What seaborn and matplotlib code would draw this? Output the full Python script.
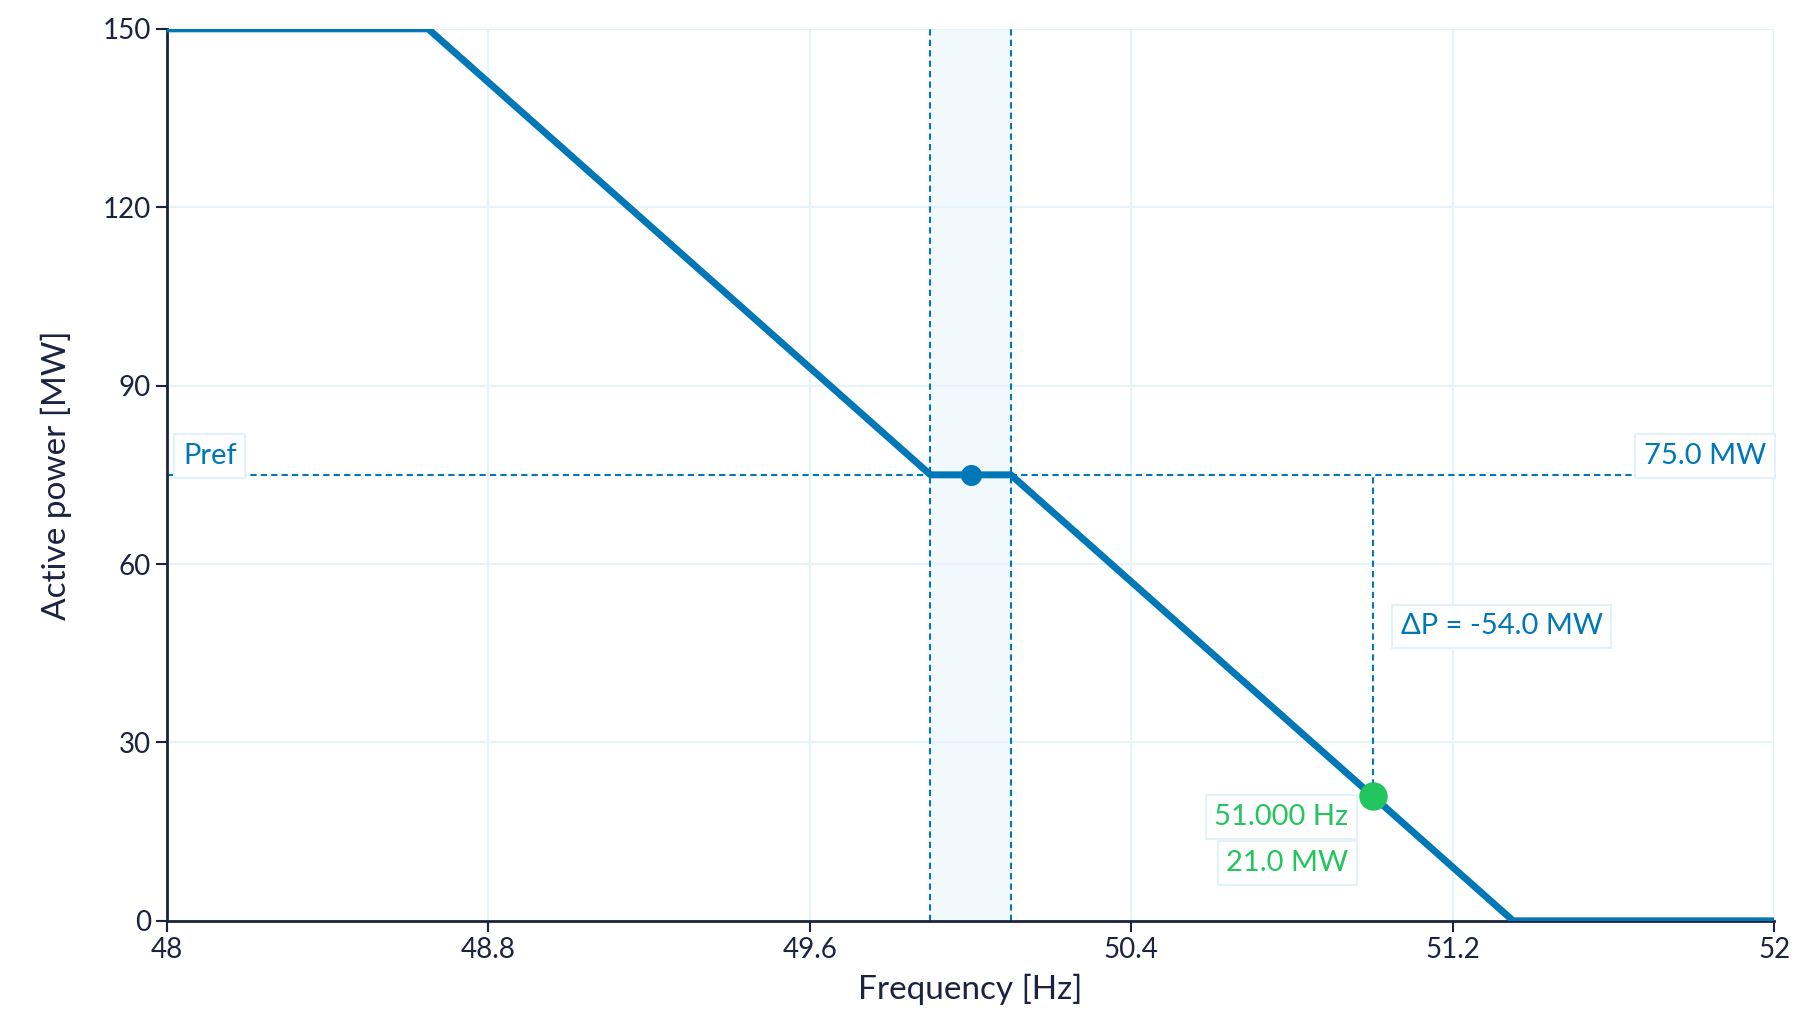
import matplotlib
matplotlib.use("Agg")
import matplotlib.pyplot as plt
import seaborn as sns
import pandas as pd

# Droop curve breakpoints
freq = [48.0, 48.65, 49.9, 50.1, 51.35, 52.0]
power = [150, 150, 75, 75, 0, 0]
deadband = [49.9, 50.1]
p_ref = 75.0
op_freq = 51.0
op_power = 21.0
delta_p = -54.0
x_ticks = [48, 48.8, 49.6, 50.4, 51.2, 52]
y_ticks = [0, 30, 60, 90, 120, 150]

blue = "#0077b6"
green = "#22c55e"
navy = "#1b2340"

sns.set_theme(style="white")
plt.rcParams['font.family'] = ['Lato', 'DejaVu Sans']

fig = plt.figure(figsize=(17.95, 10.3), dpi=100)
ax = fig.add_axes([0.093, 0.106, 0.8955, 0.866])

df = pd.DataFrame({"f": freq, "p": power})
ax.axvspan(deadband[0], deadband[1], color="#e8f5fb", alpha=0.6, zorder=0)
for d in deadband:
    ax.axvline(d, color=blue, ls=(0, (3, 2)), lw=1.5, zorder=1)
ax.axhline(p_ref, color=blue, ls=(0, (3, 2)), lw=1.5, zorder=1)
ax.plot([op_freq, op_freq], [op_power, p_ref], color=blue, ls=(0, (3, 2)), lw=1.5, zorder=1)

sns.lineplot(data=df, x="f", y="p", ax=ax, color=blue, lw=5, zorder=3)
ax.scatter([sum(deadband) / 2], [p_ref], s=200, color=blue, zorder=4)
ax.scatter([op_freq], [op_power], s=380, color=green, zorder=5)

box = dict(boxstyle="square,pad=0.3", fc="white", ec="#e3f1f8", lw=1.5)
ax.text(48.04, p_ref + 3.2, "Pref", color=blue, fontsize=21, ha="left", va="center", bbox=box)
ax.text(51.98, p_ref + 3.2, f"{p_ref:.1f} MW", color=blue, fontsize=21, ha="right", va="center", bbox=box)
ax.text(op_freq + 0.07, 49.5, f"ΔP = {delta_p:.1f} MW", color=blue, fontsize=21, ha="left", va="center",
        bbox=dict(boxstyle="square,pad=0.3", fc="white", ec="#e3f1f8", lw=1.5))
ax.text(op_freq - 0.06, 17.5, f"{op_freq:.3f} Hz", color=green, fontsize=21, ha="right", va="center", bbox=box)
ax.text(op_freq - 0.06, 9.7, f"{op_power:.1f} MW", color=green, fontsize=21, ha="right", va="center", bbox=box)

ax.set_xlim(48, 52)
ax.set_ylim(0, 150)
ax.set_xticks(x_ticks)
ax.set_xticklabels(["48", "48.8", "49.6", "50.4", "51.2", "52"])
ax.set_yticks(y_ticks)
ax.grid(True, color="#e6f4fa", lw=1.5)
ax.set_axisbelow(True)
for s in ["top", "right"]:
    ax.spines[s].set_visible(False)
for s in ["left", "bottom"]:
    ax.spines[s].set_color(navy)
    ax.spines[s].set_linewidth(2)
ax.tick_params(axis="both", colors=navy, labelsize=20, length=8, width=1.5, direction="out",
               bottom=True, left=True)
ax.set_xlabel("Frequency [Hz]", fontsize=24, color=navy, labelpad=8)
ax.set_ylabel("Active power [MW]", fontsize=24, color=navy, labelpad=22)

fig.savefig("out.png", dpi=100)
